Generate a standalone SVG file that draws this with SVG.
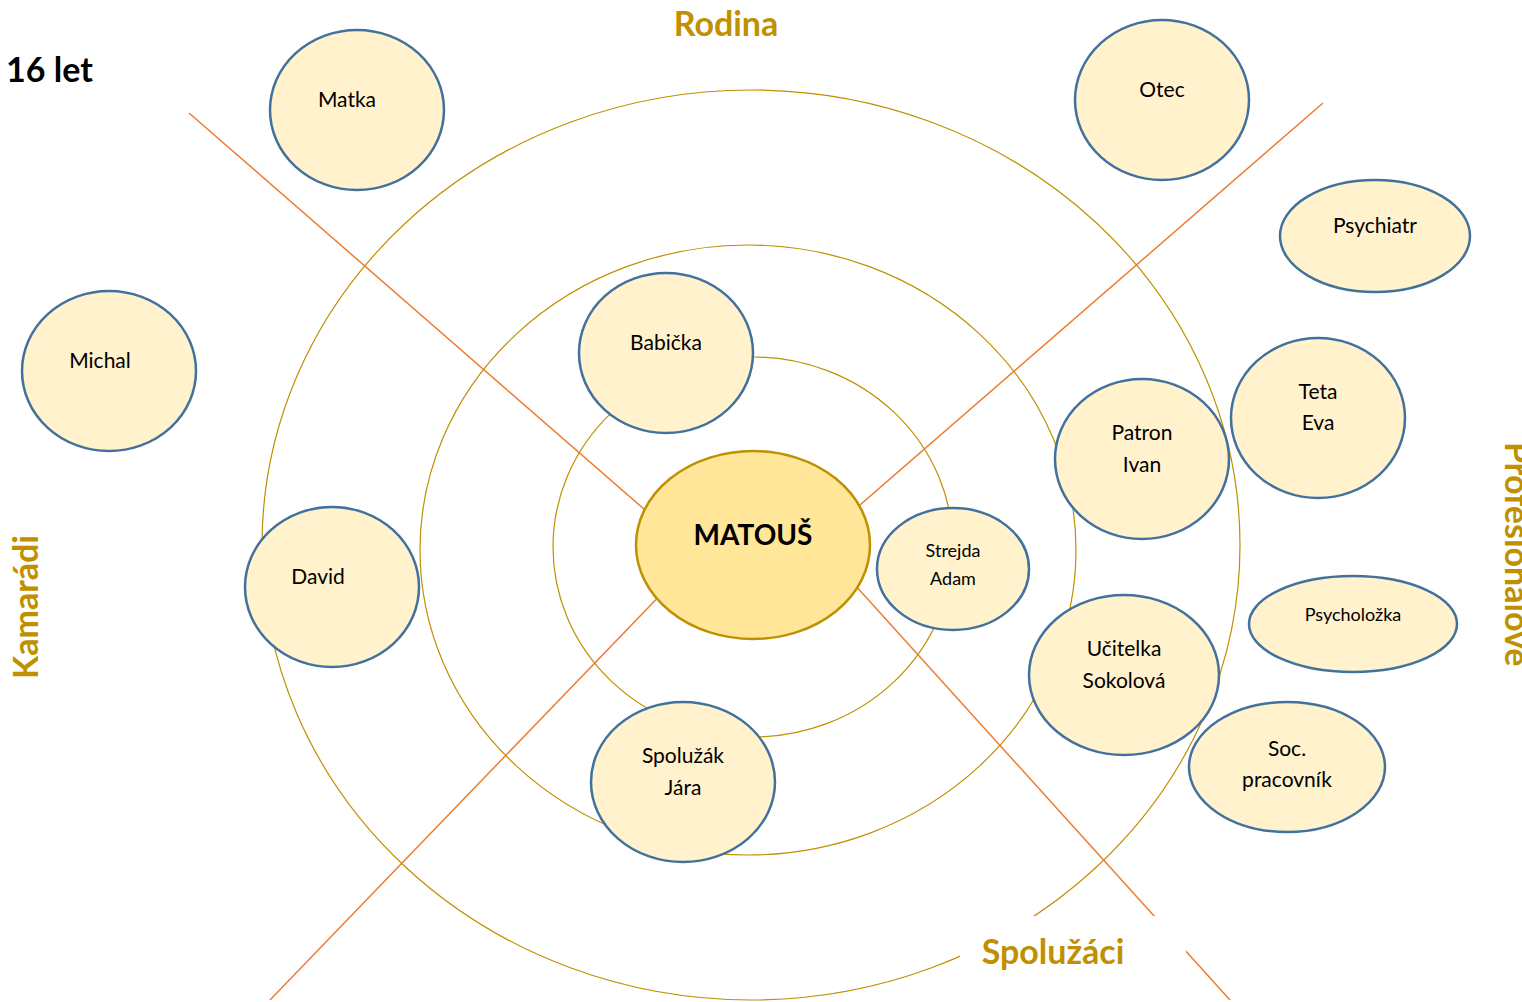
<svg xmlns="http://www.w3.org/2000/svg" width="1522" height="1002" viewBox="0 0 1522 1002">
<style>
.ring{fill:none;stroke:#BF9000;stroke-width:1.2}
.sep{stroke:#ED7D31;stroke-width:1.5;fill:none}
.node{fill:#FFF2CC;stroke:#41719C;stroke-width:2.5}
.center{fill:#FFE699;stroke:#BF9000;stroke-width:2.5}
.t{font-family:Lato,"Liberation Sans",sans-serif;font-size:21px;fill:#000;text-anchor:middle}
.ts{font-size:18px}
.big{font-family:Lato,"Liberation Sans",sans-serif;font-size:34px;font-weight:bold;fill:#BF9000}
</style>
<rect width="1522" height="1002" fill="#fff"/>
<g id="rings">
<ellipse class="ring" cx="751" cy="545" rx="489" ry="455"/>
<ellipse class="ring" cx="748" cy="550" rx="328" ry="305"/>
<ellipse class="ring" cx="753" cy="547" rx="200" ry="190"/>
</g>
<g id="connectors">
<line class="sep" x1="189" y1="113" x2="660" y2="523"/>
<line class="sep" x1="1323" y1="103" x2="845" y2="518"/>
<line class="sep" x1="270" y1="1000" x2="670" y2="585"/>
<line class="sep" x1="1230" y1="1000" x2="845" y2="574"/>
</g>
<g id="label-spoluzaci">
<rect x="960" y="916" width="226" height="90" fill="#fff"/>
<text class="big" x="1053" y="964" text-anchor="middle">Spolužáci</text>
</g>
<g id="label-rodina"><text class="big" x="726" y="36" text-anchor="middle">Rodina</text></g>
<g id="label-age"><text class="big" x="6" y="82" style="fill:#000">16 let</text></g>
<g id="label-kamaradi"><text class="big" transform="translate(38,607) rotate(-90)" text-anchor="middle">Kamarádi</text></g>
<g id="label-profesionalove"><text class="big" transform="translate(1505,442) rotate(90)">Profesionálové</text></g>
<g id="node-matka"><ellipse class="node" cx="357" cy="110" rx="87" ry="80"/><text class="t" x="347" y="107">Matka</text></g>
<g id="node-otec"><ellipse class="node" cx="1162" cy="100" rx="87" ry="80"/><text class="t" x="1162" y="97">Otec</text></g>
<g id="node-psychiatr"><ellipse class="node" cx="1375" cy="236" rx="95" ry="56"/><text class="t" x="1375" y="233">Psychiatr</text></g>
<g id="node-michal"><ellipse class="node" cx="109" cy="371" rx="87" ry="80"/><text class="t" x="100" y="368">Michal</text></g>
<g id="node-babicka"><ellipse class="node" cx="666" cy="353" rx="87" ry="80"/><text class="t" x="666" y="350">Babička</text></g>
<g id="node-teta"><ellipse class="node" cx="1318" cy="418" rx="87" ry="80"/><text class="t" x="1318" y="399">Teta</text><text class="t" x="1318" y="430">Eva</text></g>
<g id="node-patron"><ellipse class="node" cx="1142" cy="459" rx="87" ry="80"/><text class="t" x="1142" y="440">Patron</text><text class="t" x="1142" y="472">Ivan</text></g>
<g id="node-david"><ellipse class="node" cx="332" cy="587" rx="87" ry="80"/><text class="t" x="318" y="584">David</text></g>
<g id="node-strejda"><ellipse class="node" cx="953" cy="569" rx="76" ry="61"/><text class="t ts" x="953" y="557">Strejda</text><text class="t ts" x="953" y="585">Adam</text></g>
<g id="node-psycholozka"><ellipse class="node" cx="1353" cy="624" rx="104" ry="48"/><text class="t ts" x="1353" y="621">Psycholožka</text></g>
<g id="node-ucitelka"><ellipse class="node" cx="1124" cy="675" rx="95" ry="80"/><text class="t" x="1124" y="656">Učitelka</text><text class="t" x="1124" y="688">Sokolová</text></g>
<g id="node-soc"><ellipse class="node" cx="1287" cy="767" rx="98" ry="65"/><text class="t" x="1287" y="756">Soc.</text><text class="t" x="1287" y="787">pracovník</text></g>
<g id="node-jara"><ellipse class="node" cx="683" cy="782" rx="92" ry="80"/><text class="t" x="683" y="763">Spolužák</text><text class="t" x="683" y="795">Jára</text></g>
<g id="node-matous"><ellipse class="center" cx="753" cy="545" rx="117" ry="94"/><text class="t" x="753" y="545" style="font-size:28px;font-weight:bold">MATOUŠ</text></g>
</svg>
